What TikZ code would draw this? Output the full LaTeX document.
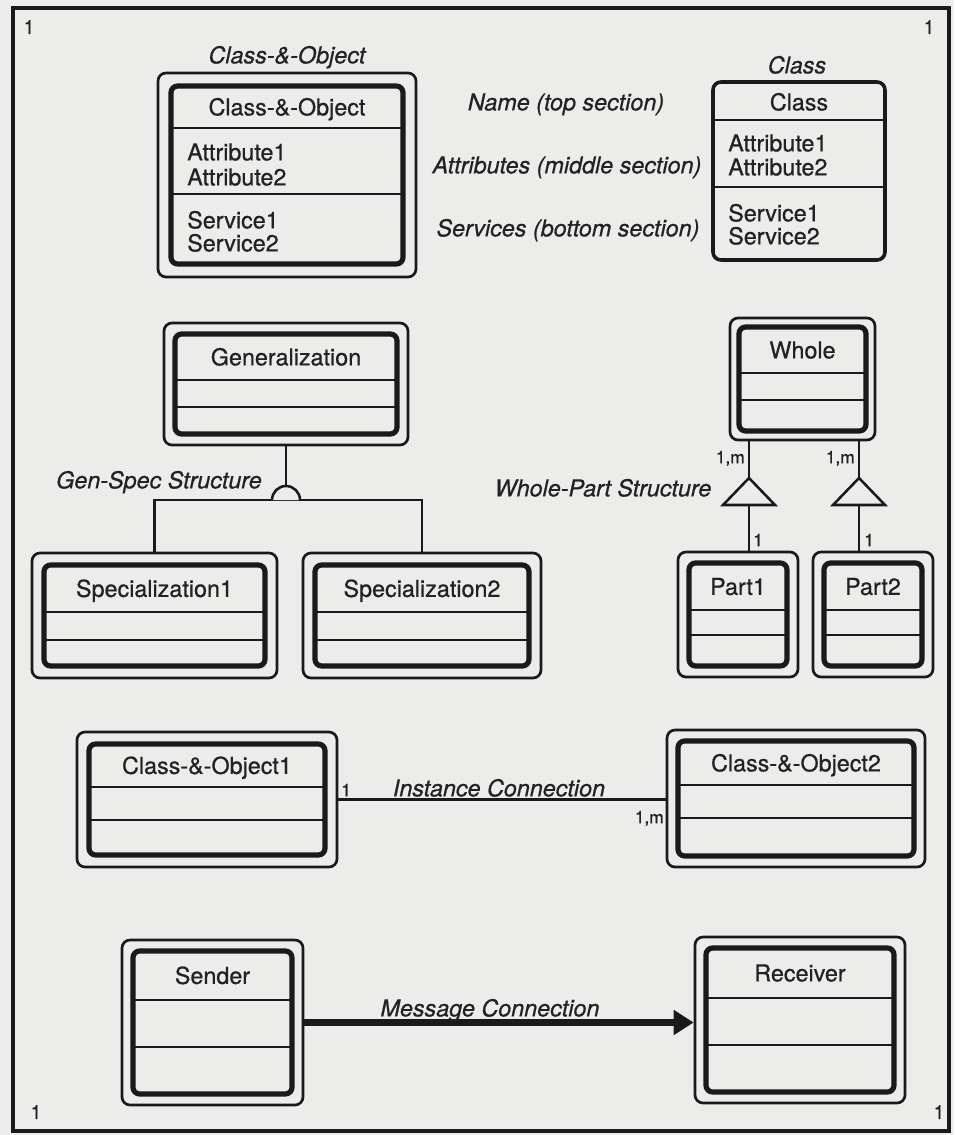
\documentclass[tikz,border=0pt]{standalone}
\usepackage{fontspec}
\setmainfont{TeX Gyre Heros}[FakeBold=0.7]
\usetikzlibrary{arrows.meta,fit}
\definecolor{paper}{RGB}{236,236,234}
\definecolor{ink}{RGB}{26,26,26}
\definecolor{txt}{RGB}{34,34,34}
\tikzset{
  outerbox/.style={draw=ink, line width=2pt, rounded corners=6pt, inner sep=0pt},
  innerbox/.style={draw=ink, line width=3.9pt, rounded corners=5pt, inner sep=0pt},
  singlebox/.style={draw=ink, line width=2.7pt, rounded corners=6pt, inner sep=0pt},
  divider/.style={draw=ink, line width=1.9pt},
  conn/.style={draw=ink, line width=1.9pt},
  msgconn/.style={draw=ink, line width=5pt, -{Triangle[length=15pt,width=18pt]}},
  lbl/.style={text=txt, font=\fontsize{17.5}{21}\selectfont, inner sep=0pt, text height=12.6pt, text depth=0pt},
  itlbl/.style={lbl, font=\fontsize{17.5}{21}\selectfont\itshape},
  small/.style={text=txt, font=\fontsize{13}{15}\selectfont, inner sep=0pt, text height=9.3pt, text depth=0pt},
  corner/.style={text=txt, font=\fontsize{14.5}{16}\selectfont, inner sep=0pt, text height=10.4pt, text depth=0pt},
}
% #1 name, #2 x1, #3 y1, #4 x2, #5 y2, #6 inset, #7 div1, #8 div2, #9 text
\newcommand{\coboxdraw}[9]{%
  \node[outerbox, fit={(#2,#3) (#4,#5)}] (#1) {};
  \node[innerbox, fit={({#2+#6},{#3+#6}) ({#4-#6},{#5-#6})}] (#1-in) {};
  \draw[divider] ({#2+#6},#7) -- ({#4-#6},#7);
  \draw[divider] ({#2+#6},#8) -- ({#4-#6},#8);
  \node[lbl] (#1-name) at ({(#2+#4)/2},{(#3+#6+#7)/2}) {#9};
}
\begin{document}
\begin{tikzpicture}[x=0.75pt,y=-0.75pt]
\useasboundingbox (0,0) rectangle (954,1135);
\fill[paper] (0,0) rectangle (954,1135);
% frame
\draw[ink, line width=3pt] (13,8) rectangle (949,1131);
\node[corner] (c1) at (29,27) {1};
\node[corner] (c2) at (929,27) {1};
\node[corner] (c3) at (36,1112) {1};
\node[corner] (c4) at (939,1112) {1};

% Class-&-Object (top left)
\node[itlbl] (cotitle) at (287,55) {Class-\&-Object};
\coboxdraw{co}{158}{73}{416}{277}{13}{128}{194}{Class-\&-Object}
\node[lbl, anchor=west] (coa1) at (187,152) {Attribute1};
\node[lbl, anchor=west] (coa2) at (187,177) {Attribute2};
\node[lbl, anchor=west] (cos1) at (187,220) {Service1};
\node[lbl, anchor=west] (cos2) at (187,243) {Service2};

% Class (top right)
\node[itlbl] (clstitle) at (797,65) {Class};
\node[singlebox, fit={(713,82) (885,260)}] (cls) {};
\draw[divider] (713,120) -- (885,120);
\draw[divider] (713,187) -- (885,187);
\node[lbl] (cls-name) at (799,102) {Class};
\node[lbl, anchor=west] (clsa1) at (728,143) {Attribute1};
\node[lbl, anchor=west] (clsa2) at (728,167) {Attribute2};
\node[lbl, anchor=west] (clss1) at (728,213) {Service1};
\node[lbl, anchor=west] (clss2) at (728,236) {Service2};

% section descriptions
\node[itlbl] (dname) at (566,102) {Name (top section)};
\node[itlbl] (dattr) at (567,165) {Attributes (middle section)};
\node[itlbl] (dserv) at (568,228) {Services (bottom section)};

% Gen-Spec
\coboxdraw{gen}{164}{323}{408}{445}{11}{380}{407}{Generalization}
\coboxdraw{spec1}{32}{553}{277}{678}{12}{612}{640}{Specialization1}
\coboxdraw{spec2}{303}{553}{541}{678}{12}{612}{640}{Specialization2}
\coordinate (gsb) at (286,500);
\coordinate (gst) at (286,486);
\draw[conn] (gen.south) -- (gst);
\draw[conn] (spec1.north) |- (gsb) -| (spec2.north);
\draw[conn, fill=paper] ([xshift=-10.5pt]gsb) arc[start angle=180, end angle=0, radius=10.5pt];
\node[itlbl] (gslbl) at (159,480) {Gen-Spec Structure};

% Whole-Part
\coboxdraw{whole}{730}{318}{875}{440}{9}{373}{400}{Whole}
\coboxdraw{part1}{678}{552}{798}{677}{11}{610}{635}{Part1}
\coboxdraw{part2}{813}{552}{933}{677}{11}{610}{635}{Part2}
\coordinate (t1) at (749,478);
\coordinate (t2) at (859,478);
\coordinate (t1b) at (749,505);
\coordinate (t2b) at (859,505);
\draw[conn] (t1 |- whole.south) -- (t1);
\draw[conn] (t2 |- whole.south) -- (t2);
\draw[conn, fill=paper] (t1) -- ++(-26,27) -- ++(52,0) -- cycle;
\draw[conn, fill=paper] (t2) -- ++(-26,27) -- ++(52,0) -- cycle;
\draw[conn] (t1b) -- (t1b |- part1.north);
\draw[conn] (t2b) -- (t2b |- part2.north);
\node[small, anchor=east] (m1) at (745,457) {1,m};
\node[small, anchor=east] (m2) at (855,457) {1,m};
\node[small, anchor=west] (o1) at (753,540) {1};
\node[small, anchor=west] (o2) at (864,540) {1};
\node[itlbl] (wplbl) at (603,488) {Whole-Part Structure};

% Instance connection
\coboxdraw{coa}{77}{732}{337}{867}{12}{787}{820}{Class-\&-Object1}
\coboxdraw{cob}{667}{730}{925}{867}{11}{785}{818}{Class-\&-Object2}
\draw[conn] (coa.east) -- (coa.east -| cob.west);
\node[small, anchor=west] (ic1) at (341,790) {1};
\node[small, anchor=east] (icm) at (664,817) {1,m};
\node[itlbl] (iclbl) at (499,788) {Instance Connection};

% Message connection
\coboxdraw{snd}{122}{940}{303}{1105}{11}{1000}{1047}{Sender}
\coboxdraw{rcv}{695}{937}{905}{1103}{11}{998}{1045}{Receiver}
\draw[msgconn] (snd.east) -- (snd.east -| rcv.west);
\node[itlbl] (mclbl) at (490,1008) {Message Connection};
\end{tikzpicture}
\end{document}
